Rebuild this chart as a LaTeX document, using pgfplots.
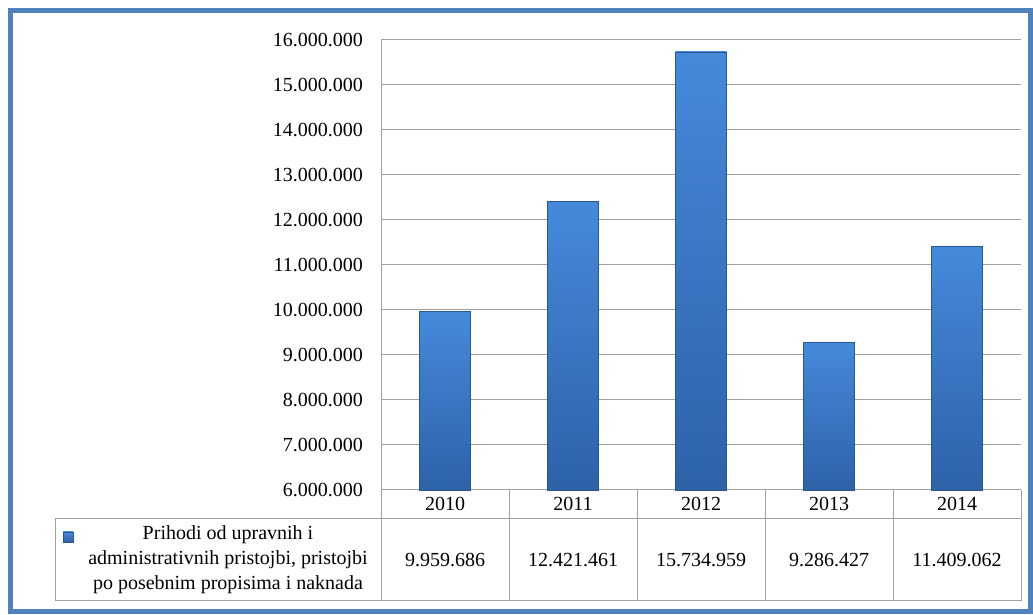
\documentclass[border=0pt]{standalone}
\usepackage{pgfplots}
\pgfplotsset{compat=1.18}
\usepackage{fontspec}
\setmainfont{Liberation Serif}
\definecolor{frameblue}{HTML}{4F81BD}
\definecolor{bartop}{HTML}{4689DB}
\definecolor{barbottom}{HTML}{2D62A8}
\definecolor{baredge}{HTML}{2A5794}
\definecolor{gridgray}{HTML}{A0A0A0}
\begin{document}
\fontsize{20}{24}\selectfont
\begin{tikzpicture}[x=1pt,y=1pt]
\path (0,0) rectangle (1033,615);
\draw[frameblue, line width=5pt] (10,3) rectangle (1030.5,604.5);
\begin{axis}[
  at={(381pt,125pt)}, anchor=south west,
  scale only axis, width=640pt, height=450pt,
  xmin=-0.5, xmax=4.5, ymin=6000000, ymax=16000000,
  scaled y ticks=false,
  axis lines*=left,
  axis line style={gridgray, line width=1pt},
  ymajorgrids, grid style={gridgray, line width=1pt},
  major tick length=0pt,
  xtick={0,1,2,3,4},
  xticklabels={2010,2011,2012,2013,2014},
  xticklabel style={anchor=center, inner sep=0pt, yshift=-14pt, font=\fontsize{20}{24}\selectfont},
  ytick={6000000,7000000,8000000,9000000,10000000,11000000,12000000,13000000,14000000,15000000,16000000},
  yticklabels={6.000.000,7.000.000,8.000.000,9.000.000,10.000.000,11.000.000,12.000.000,13.000.000,14.000.000,15.000.000,16.000.000},
  yticklabel style={anchor=east, inner sep=0pt, xshift=-18pt, font=\fontsize{20}{24}\selectfont},
  yearbar/.style={ybar, bar width=51pt, bar shift=0pt,
    draw=baredge, line width=0.8pt,
    top color=bartop, bottom color=barbottom},
  clip=false,
]
% one plot per year so that each bar gets its own shading
\addplot[yearbar] coordinates {(0,9959686)};
\addplot[yearbar] coordinates {(1,12421461)};
\addplot[yearbar] coordinates {(2,15734959)};
\addplot[yearbar] coordinates {(3,9286427)};
\addplot[yearbar] coordinates {(4,11409062)};
\end{axis}
% data table below the axis
\draw[gridgray, line width=1pt] (55,96) -- (1021,96) (55,14) -- (1021,14) (55,14) -- (55,96);
\foreach \xx in {381,509,637,765,893,1021}
  \draw[gridgray, line width=1pt] (\xx,125) -- (\xx,14);
\shade[top color=bartop, bottom color=barbottom, draw=baredge, line width=0.5pt] (63,73) rectangle (73,83);
\node[align=center, font=\fontsize{20}{25}\selectfont] at (228,55)
  {Prihodi od upravnih i\\administrativnih pristojbi, pristojbi\\po posebnim propisima i naknada};
\node at (445,55) {9.959.686};
\node at (573,55) {12.421.461};
\node at (701,55) {15.734.959};
\node at (829,55) {9.286.427};
\node at (957,55) {11.409.062};
\end{tikzpicture}
\end{document}
